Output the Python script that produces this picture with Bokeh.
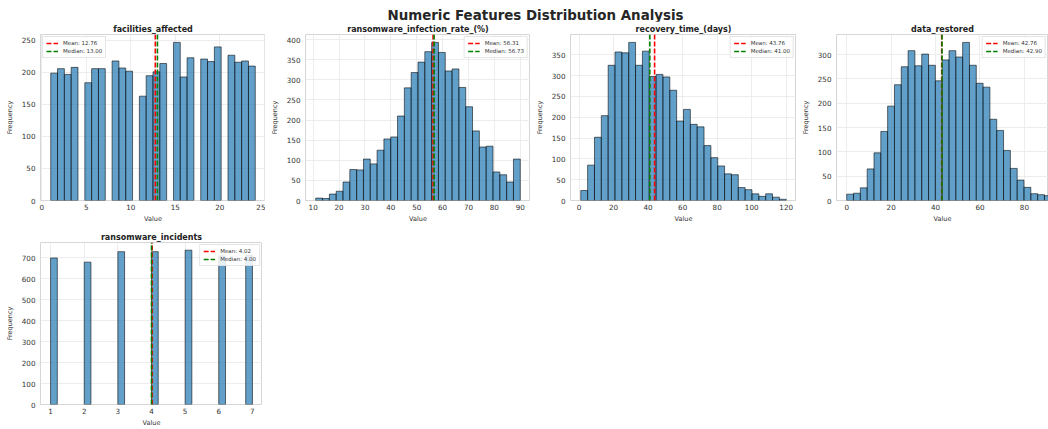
import numpy as np
from bokeh.plotting import figure
from bokeh.models import Range1d, FixedTicker, Legend, LegendItem, Div, ColumnDataSource
from bokeh.layouts import column, row
from bokeh.embed import file_html
from bokeh.resources import INLINE

# ---------------- data ----------------
suptitle = "Numeric Features Distribution Analysis"

features = ["facilities_affected", "ransomware_infection_rate_(%)",
            "recovery_time_(days)", "data_restored", "ransomware_incidents"]

# 30-bin histogram counts per feature
facilities_counts = [199, 206, 197, 208, 0, 184, 206, 206, 0, 218, 207, 202, 0,
                     163, 195, 201, 214, 0, 247, 193, 223, 0, 221, 217, 240, 0,
                     227, 216, 218, 210]
infection_counts = [6, 5, 16, 23, 46, 77, 76, 103, 91, 125, 153, 158, 210, 280,
                    318, 344, 370, 393, 368, 322, 327, 281, 233, 173, 133, 135,
                    71, 64, 46, 103]
recovery_counts = [24, 85, 152, 204, 325, 357, 355, 380, 325, 359, 298, 303, 297,
                   265, 191, 219, 183, 177, 132, 103, 83, 64, 62, 31, 26, 16, 10,
                   16, 8, 3]
restored_counts = [13, 15, 26, 65, 98, 142, 194, 238, 275, 308, 277, 301, 278,
                   246, 289, 308, 295, 325, 278, 241, 233, 167, 144, 103, 66, 42,
                   27, 14, 12, 10]
incidents_counts = [700, 0, 0, 0, 0, 680, 0, 0, 0, 0, 730, 0, 0, 0, 0, 730, 0, 0,
                    0, 0, 737, 0, 0, 0, 0, 710, 0, 0, 0, 713]

# data minimum / maximum of each feature (histogram range)
data_min = [1.0, 11.0, 1.0, 0.0, 1.0]
data_max = [24.0, 90.0, 120.0, 92.1, 7.0]

means = [12.76, 56.31, 43.76, 42.76, 4.02]
medians = [13.00, 56.73, 41.00, 42.90, 4.00]

x_ticks = [[0, 5, 10, 15, 20, 25],
           [10, 20, 30, 40, 50, 60, 70, 80, 90],
           [0, 20, 40, 60, 80, 100, 120],
           [0, 20, 40, 60, 80],
           [1, 2, 3, 4, 5, 6, 7]]
y_ticks = [[0, 50, 100, 150, 200, 250],
           [0, 50, 100, 150, 200, 250, 300, 350, 400],
           [0, 50, 100, 150, 200, 250, 300, 350],
           [0, 50, 100, 150, 200, 250, 300],
           [0, 100, 200, 300, 400, 500, 600, 700]]

all_counts = [facilities_counts, infection_counts, recovery_counts,
              restored_counts, incidents_counts]

FONT = "DejaVu Sans"
TXT = "#333333"


def make_panel(i, width, height, top, bottom, legend_loc, x_end=None):
    counts = np.array(all_counts[i], dtype=float)
    lo, hi = data_min[i], data_max[i]
    edges = np.linspace(lo, hi, len(counts) + 1)
    mask = counts > 0
    src = ColumnDataSource(dict(left=edges[:-1][mask], right=edges[1:][mask],
                                top=counts[mask]))
    span = hi - lo
    x0 = lo - 0.05 * span
    x1 = hi + 0.05 * span if x_end is None else x_end
    ytop = counts.max() * 1.05

    p = figure(width=width, height=height, title=features[i],
               x_range=Range1d(x0, x1), y_range=Range1d(0, ytop),
               output_backend="svg", toolbar_location=None,
               min_border_left=40, min_border_right=0,
               min_border_top=top, min_border_bottom=bottom)
    p.quad(left="left", right="right", bottom=0, top="top", source=src,
           fill_color="#1f77b4", fill_alpha=0.7,
           line_color="black", line_alpha=0.7, line_width=0.8)
    r_mean = p.segment(x0=[means[i]], y0=[0], x1=[means[i]], y1=[ytop],
                       line_color="red", line_dash="5 2", line_width=1.6)
    r_med = p.segment(x0=[medians[i]], y0=[0], x1=[medians[i]], y1=[ytop],
                      line_color="green", line_dash="5 2", line_width=1.6)

    legend = Legend(items=[LegendItem(label=f"Mean: {means[i]:.2f}", renderers=[r_mean]),
                           LegendItem(label=f"Median: {medians[i]:.2f}", renderers=[r_med])],
                    location=legend_loc)
    legend.label_text_font = FONT
    legend.label_text_font_size = "5.5px"
    legend.label_text_color = TXT
    legend.glyph_width = 12
    legend.glyph_height = 6
    legend.label_height = 6
    legend.label_standoff = 5
    legend.spacing = 2
    legend.padding = 3
    legend.margin = 2
    legend.border_line_color = "#cccccc"
    legend.border_line_width = 0.8
    legend.background_fill_alpha = 0.85
    p.add_layout(legend, "center")

    p.title.text_font = FONT
    p.title.text_font_size = "8px"
    p.title.text_font_style = "bold"
    p.title.text_color = "#222222"
    p.title.align = "center"
    p.title.standoff = 2
    p.title.offset = 0

    p.xaxis.axis_label = "Value"
    p.yaxis.axis_label = "Frequency"
    for ax in (p.xaxis, p.yaxis):
        ax.axis_label_text_font = FONT
        ax.axis_label_text_font_size = "6.5px"
        ax.axis_label_text_font_style = "normal"
        ax.axis_label_text_color = TXT
        ax.major_label_text_font = FONT
        ax.major_label_text_font_size = "7.2px"
        ax.major_label_text_color = TXT
        ax.axis_line_color = None
        ax.major_tick_line_color = None
        ax.minor_tick_line_color = None
        ax.major_tick_out = 0
        ax.major_tick_in = 0
        ax.minor_tick_out = 0
        ax.minor_tick_in = 0
    p.xaxis.major_label_standoff = 3
    p.xaxis.axis_label_standoff = 2
    p.yaxis.major_label_standoff = 5
    p.yaxis.axis_label_standoff = 5
    p.xaxis.ticker = FixedTicker(ticks=x_ticks[i])
    p.yaxis.ticker = FixedTicker(ticks=y_ticks[i])

    p.xgrid.ticker = FixedTicker(ticks=x_ticks[i])
    p.ygrid.ticker = FixedTicker(ticks=y_ticks[i])
    p.grid.grid_line_color = "#e8e8e8"
    p.grid.grid_line_width = 0.8
    p.outline_line_color = "#cccccc"
    p.outline_line_width = 0.8
    p.background_fill_color = "white"
    return p


f1 = make_panel(0, 265, 204, 12, 24, "top_left")
f2 = make_panel(1, 265, 204, 12, 24, "top_right")
f3 = make_panel(2, 266, 204, 12, 24, "top_right")
# last panel is cut by the right edge of the picture
f4 = make_panel(3, 252, 204, 12, 24, "top_right",
                x_end=data_min[3] - 0.05 * (data_max[3] - data_min[3]) + 212 / 2.221)
f5 = make_panel(4, 262, 204, 17, 19, "top_right")

title_div = Div(
    text=("<div style=\"box-sizing:border-box;width:1048px;padding-left:23px;"
          "padding-top:11px;text-align:center;font-family:'DejaVu Sans';"
          "font-weight:bold;font-size:13.4px;line-height:10px;color:#262626;"
          "white-space:nowrap\">" + suptitle + "</div>"),
    width=1048, height=21, margin=(0, 0, 0, 0))

layout = column(title_div, row(f1, f2, f3, f4), row(f5), spacing=0)

open("out.html", "w").write(file_html(layout, INLINE))
